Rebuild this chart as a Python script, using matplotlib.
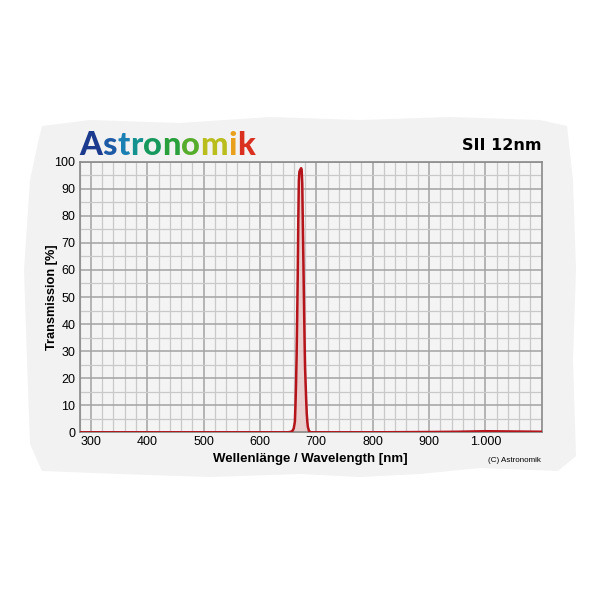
import matplotlib.pyplot as plt
from matplotlib.offsetbox import TextArea, HPacker, AnchoredOffsetbox
from matplotlib.patches import Polygon
from matplotlib.ticker import MultipleLocator, FixedLocator

# filter curve
wavelength = [280, 400, 500, 600, 640, 650, 655, 658, 660, 662, 663, 664, 665, 666,
              667, 668, 669, 670, 671, 672, 673, 674, 675, 676, 677, 678, 679, 680,
              681, 682, 683, 684, 685, 687, 690, 700, 800, 900, 950, 1000, 1050, 1100]
transmission = [0, 0, 0, 0, 0, 0, 0.2, 0.6, 1.5, 4, 10, 18, 28, 42,
                58, 78, 93, 96.3, 96.8, 97.2, 97.6, 97.0, 92, 78, 64, 50, 36, 24,
                18, 12, 7, 4, 2, 0.5, 0, 0, 0, 0.1, 0.2, 0.4, 0.3, 0.2]

x_ticks = [300, 400, 500, 600, 700, 800, 900, 1000]
x_labels = ['300', '400', '500', '600', '700', '800', '900', '1.000']
y_ticks = list(range(0, 101, 10))

logo_letters = list('Astronomik')
logo_colors = ['#1c3b8e', '#1d5ba6', '#1a7fb3', '#14928f', '#17995e',
               '#2aa03c', '#56ad2c', '#b9be1d', '#e9a11d', '#d9301f']

fig = plt.figure(figsize=(6, 6), dpi=100)
fig.patch.set_facecolor('white')

# torn paper background
paper = [(0.07, 0.79), (0.15, 0.80), (0.30, 0.795), (0.45, 0.805), (0.60, 0.80),
         (0.75, 0.805), (0.90, 0.80), (0.945, 0.79), (0.955, 0.70), (0.96, 0.55),
         (0.955, 0.40), (0.96, 0.24), (0.93, 0.215), (0.80, 0.22), (0.70, 0.21),
         (0.60, 0.205), (0.50, 0.21), (0.35, 0.205), (0.20, 0.21), (0.07, 0.215),
         (0.05, 0.26), (0.045, 0.40), (0.04, 0.55), (0.05, 0.70), (0.065, 0.77)]
fig.patches.append(Polygon(paper, closed=True, transform=fig.transFigure,
                           facecolor='#f2f2f2', edgecolor='none', zorder=-5))

ax = fig.add_axes([0.1328, 0.2795, 0.7700, 0.4510])
ax.set_facecolor('#f4f4f4')

ax.fill_between(wavelength, transmission, color='#e9c9c9', alpha=0.9, zorder=2)
ax.plot(wavelength, transmission, color='#b4141a', lw=1.8, zorder=3)

ax.set_xlim(280, 1100)
ax.set_ylim(0, 100)
ax.xaxis.set_major_locator(FixedLocator(x_ticks))
ax.set_xticklabels(x_labels)
ax.xaxis.set_minor_locator(MultipleLocator(20))
ax.set_yticks(y_ticks)
ax.yaxis.set_minor_locator(MultipleLocator(5))

ax.grid(which='minor', color='#c9c9c9', lw=0.9, zorder=1)
ax.grid(which='major', color='#a3a3a3', lw=1.1, zorder=1)
ax.set_axisbelow(True)
ax.tick_params(which='both', length=0, labelsize=9, pad=3)
for lab in ax.get_xticklabels() + ax.get_yticklabels():
    lab.set_family('Liberation Sans')
for s in ax.spines.values():
    s.set_color('#8a8a8a')
    s.set_linewidth(1.2)

ax.set_xlabel('Wellenlänge / Wavelength [nm]', fontsize=9.5, fontweight='bold',
              family='Liberation Sans', labelpad=3)
ax.set_ylabel('Transmission [%]', fontsize=9.2, fontweight='bold',
              family='Liberation Sans')
ax.yaxis.set_label_coords(-0.048, 0.5)

fig.text(0.903, 0.758, 'SII 12nm', ha='right', va='center', fontsize=11.5, fontweight='bold')
fig.text(0.902, 0.233, '(C) Astronomik', ha='right', va='center', fontsize=5.8,
         family='Liberation Sans')

# logo, one colour per letter
letters = [TextArea(c, textprops=dict(color=col, fontsize=23.5, fontweight='black',
                                      family='Lato'))
           for c, col in zip(logo_letters, logo_colors)]
logo = HPacker(children=letters, pad=0, sep=0.3, align='baseline')
anchored = AnchoredOffsetbox(loc='lower left', child=logo, pad=0, frameon=False,
                             bbox_to_anchor=(0.132, 0.733), bbox_transform=fig.transFigure,
                             borderpad=0)
fig.add_artist(anchored)

fig.savefig('out.png', dpi=100)
